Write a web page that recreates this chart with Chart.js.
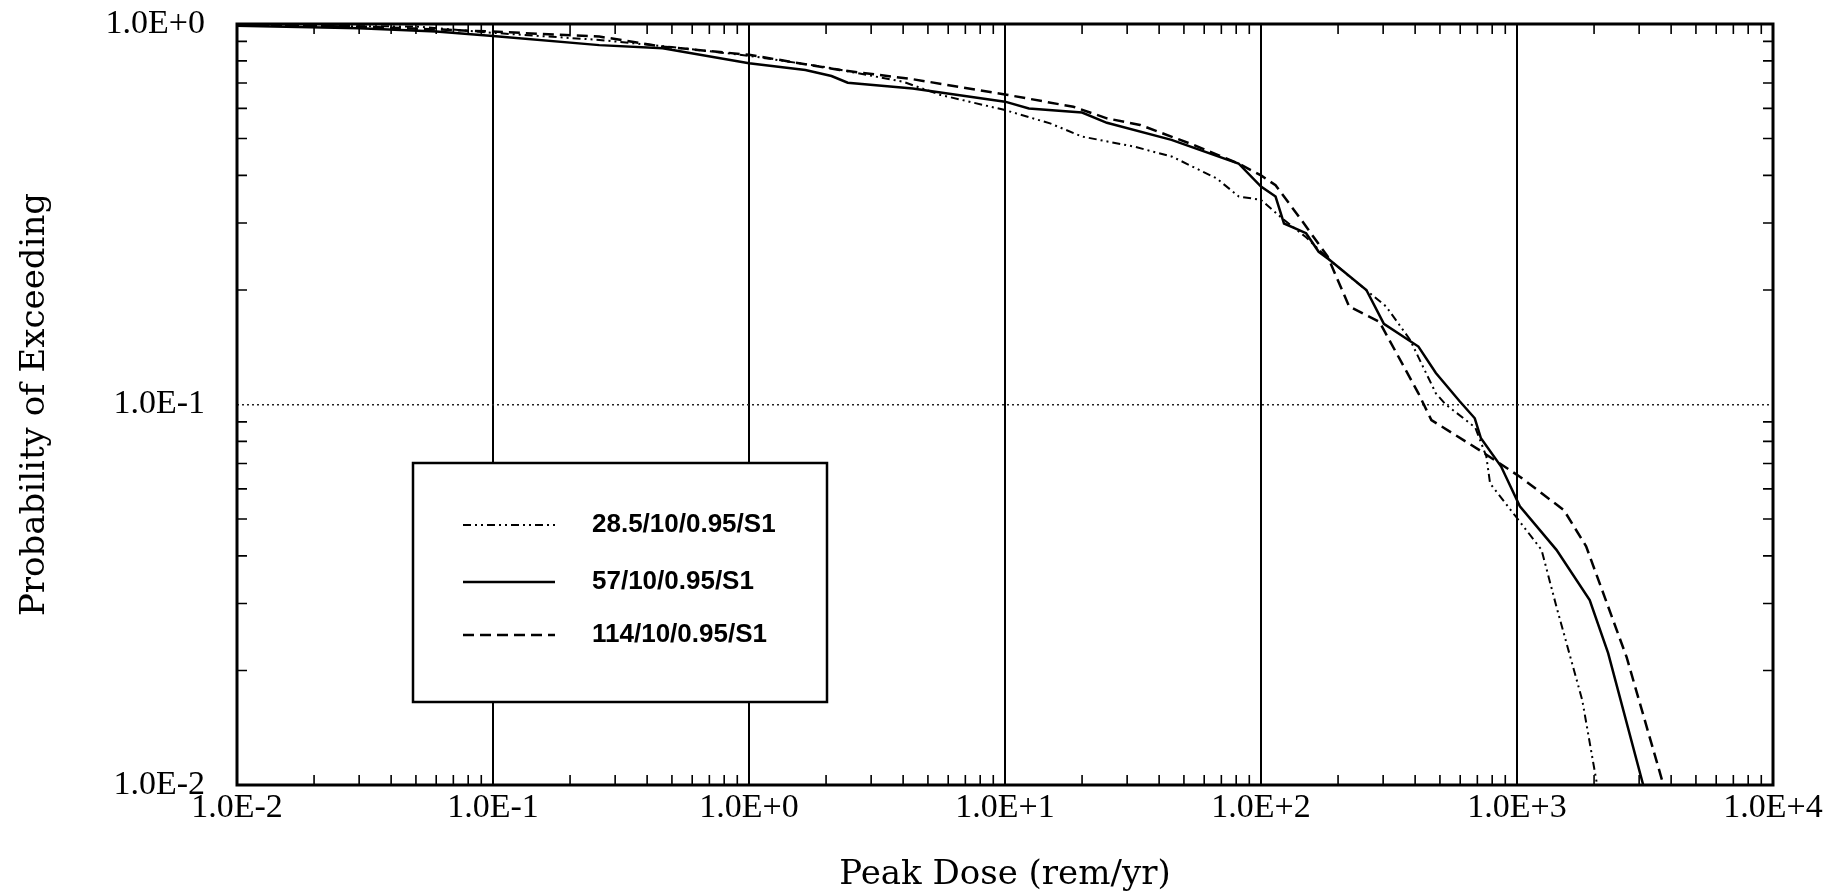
<!DOCTYPE html>
<html>
<head>
<meta charset="utf-8">
<title>Peak Dose CCDF</title>
<script src="https://cdn.jsdelivr.net/npm/chart.js@4.4.1/dist/chart.umd.min.js"></script>
<style>
  html, body { margin: 0; padding: 0; background: #fff; }
</style>
</head>
<body>
<canvas id="myChart" width="1829" height="892"></canvas>
<script>
// series labels (legend order)
var seriesNames = ['28.5/10/0.95/S1', '57/10/0.95/S1', '114/10/0.95/S1'];

// 28.5/10/0.95/S1  (dash-dot-dot)
var dose285 = [0.01, 0.05, 0.1, 0.26, 0.5, 1, 2, 4, 5.6, 10, 15, 20, 32, 45, 67, 82, 100, 120, 150, 185, 308, 382, 482, 527, 687, 759, 785, 991, 1247, 1426, 1799, 2056];
var prob285 = [0.99, 0.985, 0.948, 0.908, 0.87, 0.825, 0.77, 0.705, 0.651, 0.594, 0.548, 0.506, 0.476, 0.448, 0.393, 0.352, 0.345, 0.31, 0.275, 0.24, 0.181, 0.148, 0.107, 0.1, 0.087, 0.073, 0.062, 0.0507, 0.0415, 0.0294, 0.0167, 0.01];

// 57/10/0.95/S1  (solid)
var dose57 = [0.01, 0.03, 0.06, 0.1, 0.26, 0.46, 1, 1.66, 2.1, 2.43, 4.36, 10, 12.4, 20, 25, 44.7, 81.7, 100, 114, 123, 150, 168, 185, 258, 302, 412, 482, 597, 684, 723, 867, 1026, 1426, 1923, 2270, 3112];
var prob57 = [0.99, 0.975, 0.955, 0.93, 0.88, 0.863, 0.789, 0.757, 0.73, 0.701, 0.677, 0.625, 0.6, 0.585, 0.55, 0.496, 0.43, 0.374, 0.352, 0.299, 0.282, 0.252, 0.24, 0.2, 0.163, 0.142, 0.121, 0.102, 0.092, 0.0815, 0.0687, 0.054, 0.0415, 0.0306, 0.0222, 0.01];

// 114/10/0.95/S1  (dashed)
var dose114 = [0.01, 0.03, 0.1, 0.26, 0.46, 1, 2.26, 4.36, 10, 18.5, 25, 33.7, 54.6, 81.7, 100, 114, 144, 182, 221, 290, 412, 463, 711, 1026, 1524, 1862, 2679, 3733];
var prob114 = [0.995, 0.985, 0.955, 0.927, 0.872, 0.83, 0.757, 0.716, 0.653, 0.606, 0.565, 0.543, 0.481, 0.43, 0.4, 0.377, 0.305, 0.245, 0.181, 0.165, 0.107, 0.091, 0.076, 0.0646, 0.0528, 0.0424, 0.0217, 0.01];

// axis decades + labels
var xDecades = [0.01, 0.1, 1, 10, 100, 1000, 10000];
var xTickLabels = ['1.0E-2', '1.0E-1', '1.0E+0', '1.0E+1', '1.0E+2', '1.0E+3', '1.0E+4'];
var yDecades = [0.01, 0.1, 1];
var yTickLabels = ['1.0E-2', '1.0E-1', '1.0E+0'];

function toPoints(xs, ys) {
    var pts = [];
    for (var i = 0; i < xs.length; i++) {
        pts.push({x: xs[i], y: ys[i]});
    }
    return pts;
}

// decade ticks plus the 2..9 minor ticks between them
function decadeTicks(decades) {
    var ticks = [];
    for (var i = 0; i < decades.length; i++) {
        ticks.push({value: decades[i], major: true});
        if (i < decades.length - 1) {
            for (var m = 2; m <= 9; m++) {
                ticks.push({value: decades[i] * m, major: false});
            }
        }
    }
    return ticks;
}

function labelFor(decades, labels) {
    return function(value, index, ticks) {
        if (!ticks[index].major) return '';
        for (var i = 0; i < decades.length; i++) {
            if (Math.abs(Math.log10(value / decades[i])) < 1e-6) return labels[i];
        }
        return '';
    };
}

// inward minor ticks on all four sides + the frame
var frameTicks = {
    id: 'frameTicks',
    afterDatasetsDraw: function(chart) {
        var ctx = chart.ctx;
        var a = chart.chartArea;
        var xs = chart.scales.x, ys = chart.scales.y;
        var len = 10;
        ctx.save();
        ctx.strokeStyle = '#000';
        ctx.lineWidth = 1.6;
        ctx.setLineDash([]);
        xs.ticks.forEach(function(t) {
            if (t.major) return;
            var px = xs.getPixelForValue(t.value);
            ctx.beginPath();
            ctx.moveTo(px, a.bottom); ctx.lineTo(px, a.bottom - len);
            ctx.moveTo(px, a.top); ctx.lineTo(px, a.top + len);
            ctx.stroke();
        });
        ys.ticks.forEach(function(t) {
            if (t.major) return;
            var py = ys.getPixelForValue(t.value);
            ctx.beginPath();
            ctx.moveTo(a.left, py); ctx.lineTo(a.left + len, py);
            ctx.moveTo(a.right, py); ctx.lineTo(a.right - len, py);
            ctx.stroke();
        });
        ctx.lineWidth = 3;
        ctx.strokeRect(a.left, a.top, a.right - a.left, a.bottom - a.top);
        ctx.restore();
    }
};

// boxed legend inside the plot
var boxLegend = {
    id: 'boxLegend',
    afterDraw: function(chart) {
        var ctx = chart.ctx;
        var a = chart.chartArea;
        var left = a.left + 176, top = a.top + 439, w = 414, h = 239;
        ctx.save();
        ctx.fillStyle = '#fff';
        ctx.fillRect(left, top, w, h);
        ctx.strokeStyle = '#000';
        ctx.lineWidth = 2.5;
        ctx.setLineDash([]);
        ctx.strokeRect(left, top, w, h);
        var rows = [62, 119, 172];
        ctx.font = 'bold 26px "Liberation Sans", Arial, sans-serif';
        ctx.textBaseline = 'middle';
        ctx.fillStyle = '#000';
        chart.data.datasets.forEach(function(ds, i) {
            var y = top + rows[i];
            ctx.beginPath();
            ctx.lineWidth = ds.borderWidth;
            ctx.setLineDash(ds.borderDash || []);
            ctx.moveTo(left + 50, y);
            ctx.lineTo(left + 142, y);
            ctx.stroke();
            ctx.setLineDash([]);
            ctx.fillText(ds.label, left + 179, y);
        });
        ctx.restore();
    }
};

var tickFont = {family: '"Liberation Serif", "Times New Roman", serif', size: 34};
var titleFont = {family: '"DejaVu Serif", serif', size: 34, lineHeight: 1.0};

var chartData = {
    datasets: [
        {
            label: seriesNames[0],
            data: toPoints(dose285, prob285),
            borderColor: '#000',
            borderWidth: 2,
            borderDash: [8, 4, 2, 4, 2, 4],
            pointRadius: 0,
            fill: false
        },
        {
            label: seriesNames[1],
            data: toPoints(dose57, prob57),
            borderColor: '#000',
            borderWidth: 2.5,
            borderDash: [],
            pointRadius: 0,
            fill: false
        },
        {
            label: seriesNames[2],
            data: toPoints(dose114, prob114),
            borderColor: '#000',
            borderWidth: 2.5,
            borderDash: [11, 6],
            pointRadius: 0,
            fill: false
        }
    ]
};

var graphTarget = document.getElementById('myChart');
var lineGraph = new Chart(graphTarget, {
    type: 'line',
    data: chartData,
    options: {
        responsive: false,
        animation: false,
        layout: { padding: { left: 0, top: 24, right: 56, bottom: 0 } },
        plugins: {
            legend: { display: false },
            tooltip: { enabled: false }
        },
        elements: { line: { tension: 0 } },
        scales: {
            x: {
                type: 'logarithmic',
                min: 0.01,
                max: 10000,
                afterBuildTicks: function(s) { s.ticks = decadeTicks(xDecades); },
                afterFit: function(s) {
                    s.height = 107;
                    s.paddingLeft = 0;
                    s.paddingRight = 0;
                },
                ticks: {
                    autoSkip: false,
                    maxRotation: 0,
                    padding: 3,
                    color: '#000',
                    font: tickFont,
                    callback: labelFor(xDecades, xTickLabels)
                },
                grid: {
                    drawTicks: false,
                    lineWidth: 2,
                    color: function(c) { return c.tick && c.tick.major ? '#000' : 'rgba(0,0,0,0)'; }
                },
                border: { display: false },
                title: {
                    display: true,
                    text: 'Peak Dose (rem/yr)',
                    color: '#000',
                    font: titleFont,
                    padding: { top: 0, bottom: 0 }
                }
            },
            y: {
                type: 'logarithmic',
                min: 0.01,
                max: 1,
                afterBuildTicks: function(s) { s.ticks = decadeTicks(yDecades); },
                afterFit: function(s) {
                    s.width = 237;
                    s.paddingTop = 0;
                    s.paddingBottom = 0;
                },
                ticks: {
                    autoSkip: false,
                    padding: 32,
                    color: '#000',
                    font: tickFont,
                    callback: labelFor(yDecades, yTickLabels)
                },
                grid: {
                    drawTicks: false,
                    lineWidth: 1.5,
                    color: function(c) { return c.tick && c.tick.major ? '#222' : 'rgba(0,0,0,0)'; }
                },
                border: {
                    display: false,
                    dash: function(c) { return c.tick ? [2, 3] : []; }
                },
                title: {
                    display: true,
                    text: 'Probability of Exceeding',
                    color: '#000',
                    font: titleFont,
                    padding: { top: 18, bottom: 0 }
                }
            }
        }
    },
    plugins: [frameTicks, boxLegend]
});
</script>
</body>
</html>
